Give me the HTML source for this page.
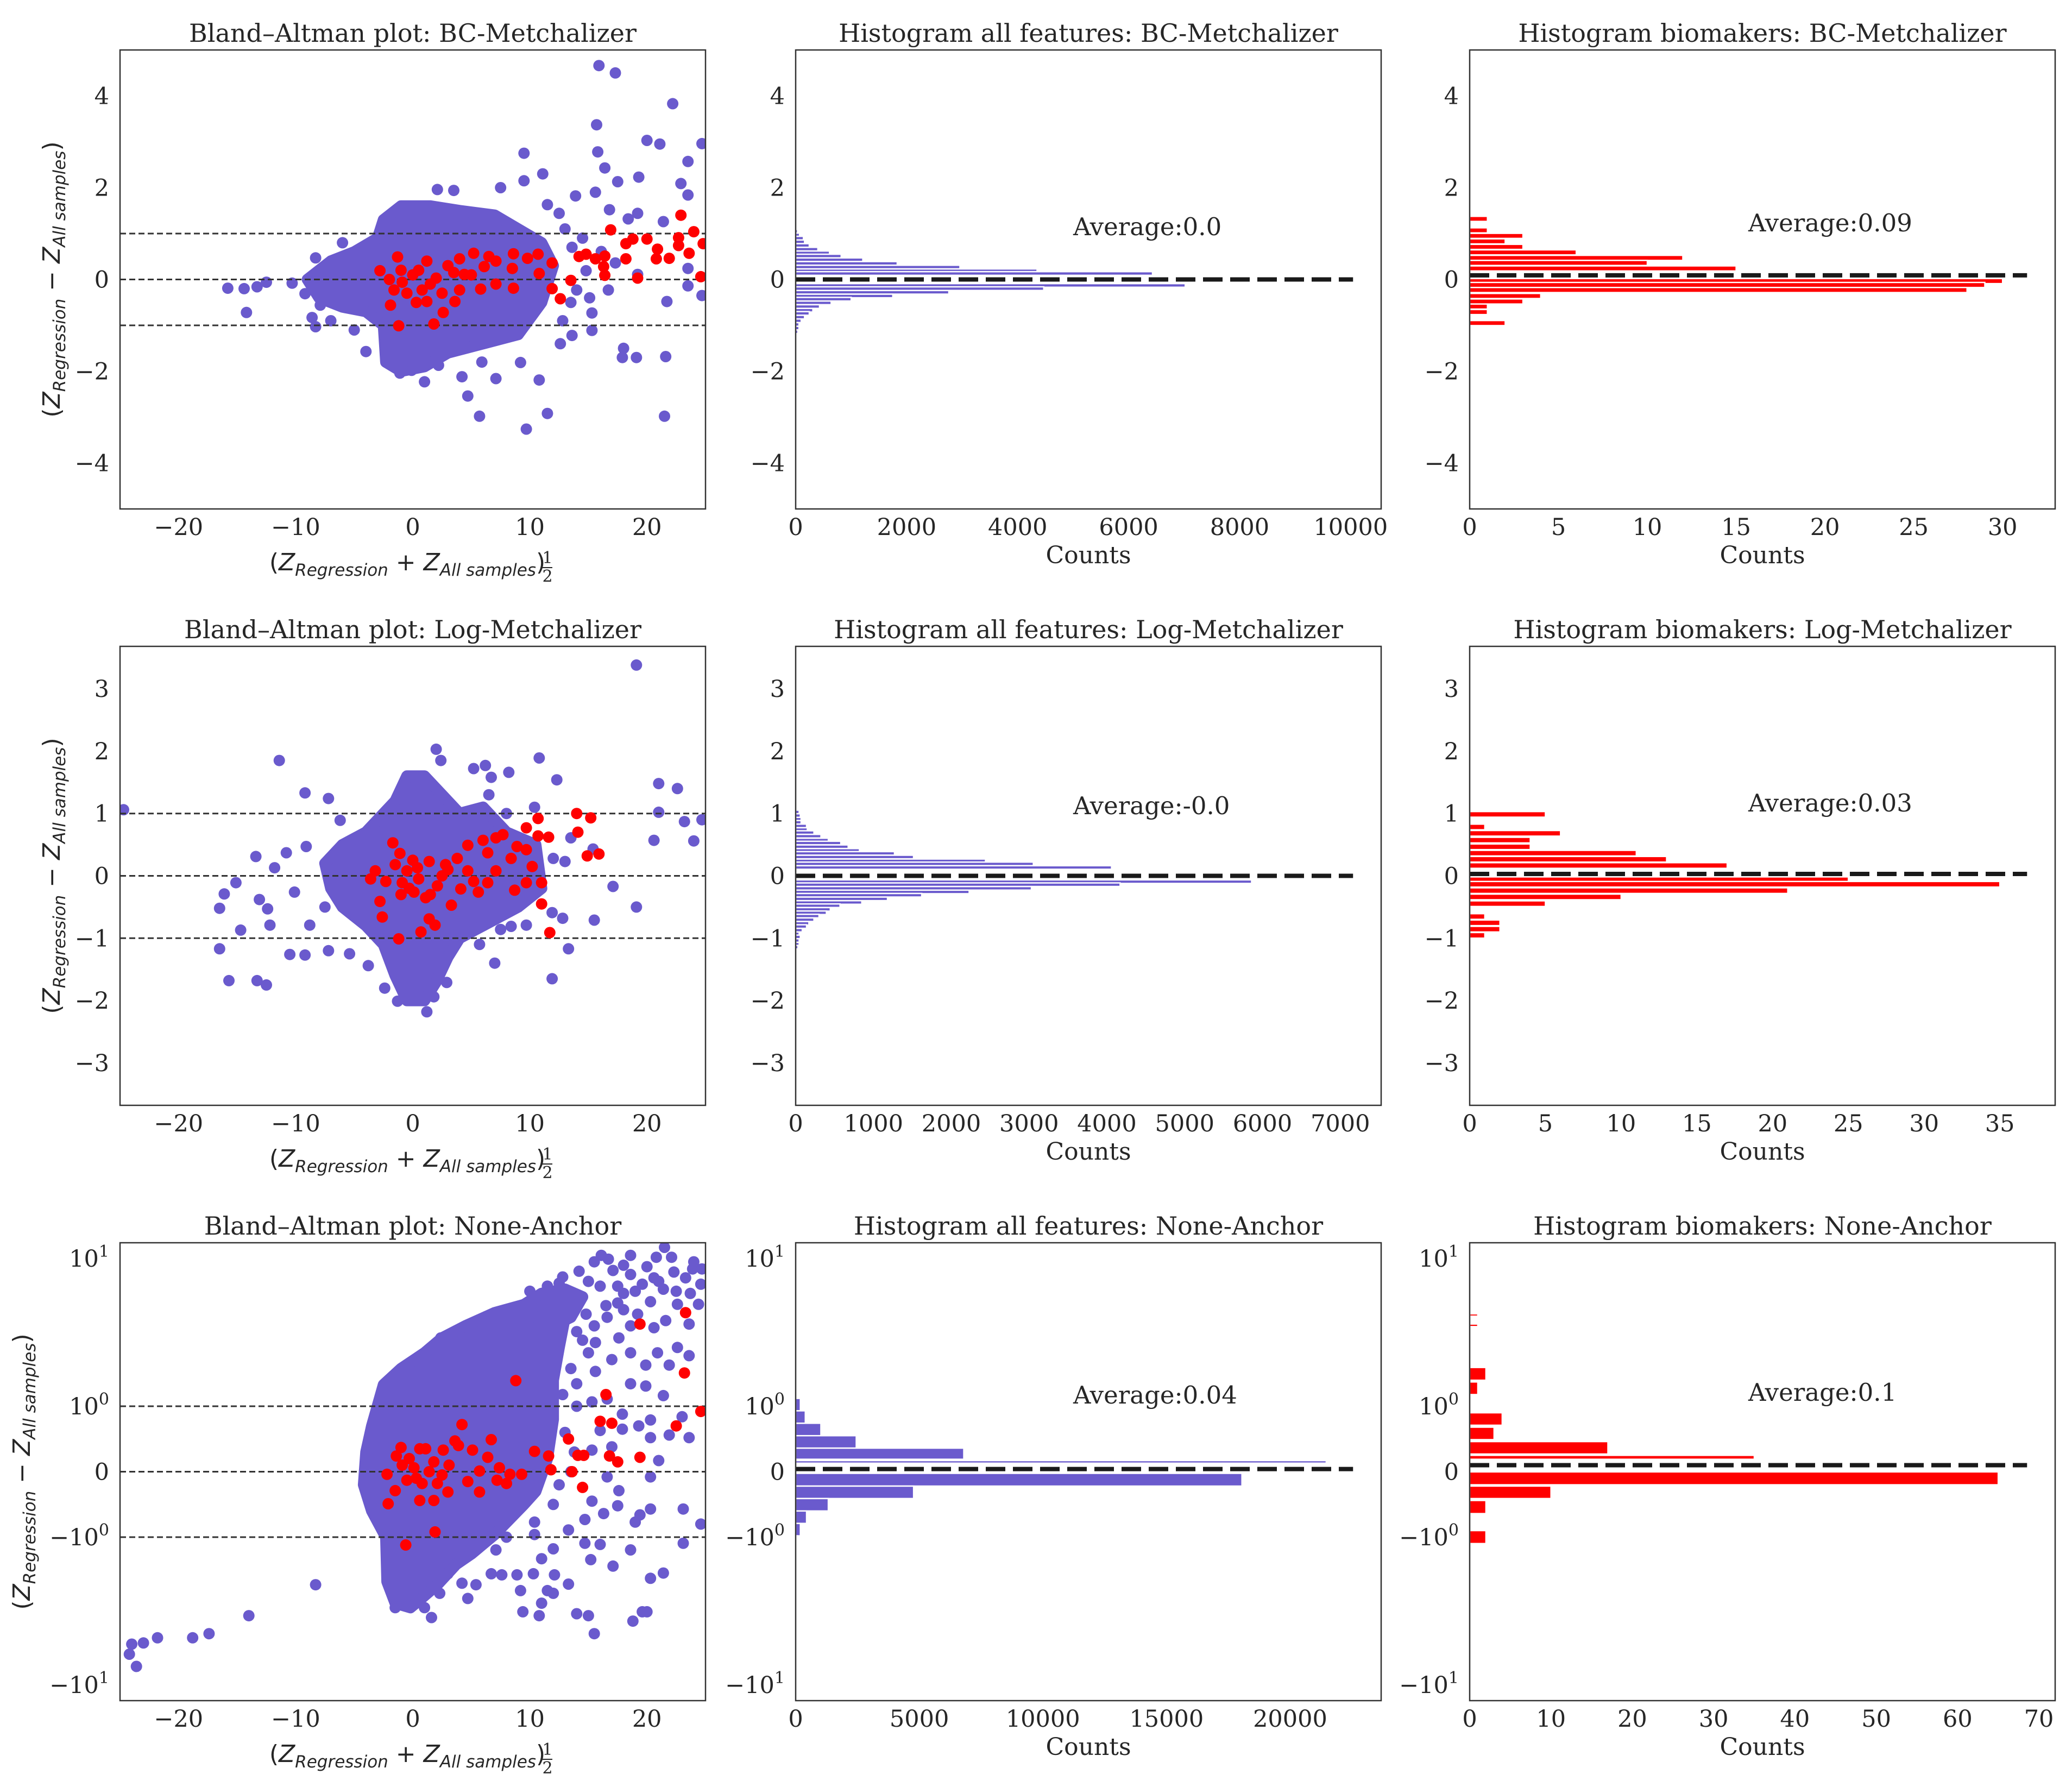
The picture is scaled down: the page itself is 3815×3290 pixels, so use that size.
<!DOCTYPE html>
<html><head><meta charset="utf-8">
<style>
html,body{margin:0;padding:0;background:#fff;}
svg{display:block;}
text{font-family:"DejaVu Serif","Liberation Serif",serif;fill:#262626;}
.math{font-family:"DejaVu Sans","Liberation Sans",sans-serif;font-style:italic;}
</style></head>
<body>
<svg id="fig" xmlns="http://www.w3.org/2000/svg" width="3815" height="3290" viewBox="0 0 3815 3290">
<rect x="0" y="0" width="3815" height="3290" fill="#fff"/>
</svg>
<script>
// ---------------- DATA ----------------
const scatterXTicks=[-20,-10,0,10,20];
const row1YTicks=[-4,-2,0,2,4];
const row2YTicks=[-3,-2,-1,0,1,2,3];
const row3YTicks=[-10,-1,0,1,10];
const row3YLabels=[["−10","1"],["−10","0"],["0",""],["10","0"],["10","1"]];
const limitLines=[-1,0,1];

const bcCore=[[-2.5,1.3],[-1,1.6],[1.5,1.6],[4,1.5],[7,1.4],[9,1.1],[11,0.8],[12,0.3],[11,-0.5],[9,-1.2],[6,-1.4],[3,-1.6],[1,-1.9],[-1,-2.0],[-2.3,-1.8],[-2.5,-1],[-4,-0.7],[-6,-0.6],[-8,-0.4],[-9,0],[-7,0.4],[-5,0.6],[-3,0.9]];
const bcBlue=[[15.9,4.66],[17.3,4.5],[22.2,3.83],[15.7,3.37],[20.0,3.03],[21.1,2.95],[24.7,2.96],[9.5,2.75],[15.8,2.78],[23.5,2.57],[16.4,2.43],[17.5,2.13],[19.3,2.23],[22.9,2.09],[23.5,1.84],[15.6,1.9],[13.9,1.82],[11.1,2.3],[9.5,2.15],[7.5,2.0],[2.1,1.96],[3.5,1.94],[16.8,1.52],[19.2,1.44],[21.4,1.26],[18.4,1.32],[12.5,1.44],[11.5,1.63],[-8.3,0.47],[-14.2,-0.72],[-15.8,-0.19],[-14.4,-0.2],[-13.3,-0.16],[-12.5,-0.06],[-10.3,-0.08],[-9.2,-0.31],[-7.9,-0.56],[-8.6,-0.83],[-8.3,-1.03],[-4.0,-1.57],[15.3,-0.73],[24.7,-0.35],[23.5,-0.14],[23.5,0.24],[21.7,-0.48],[19.2,0.11],[17.9,-1.7],[19.1,-1.7],[21.6,-1.68],[21.5,-2.98],[18.0,-1.5],[15.3,-1.11],[13.6,-1.22],[12.6,-1.4],[9.2,-1.81],[10.8,-2.19],[7.1,-2.16],[5.9,-1.8],[4.2,-2.12],[2.2,-1.87],[1.0,-2.23],[4.7,-2.54],[5.7,-2.98],[9.7,-3.26],[11.5,-2.92],[-0.1,-1.98],[-1.1,-2.04],[15.1,-0.4],[16.7,-0.23],[14.0,-0.23],[17.3,0.36],[14.8,0.19],[13.6,0.7],[16.1,0.61],[13,1.1],[14.5,0.9],[12.8,-0.9],[13.5,-0.5],[-6,0.8],[-7,-0.9],[-5,-1.1]];
const bcRed=[[22.9,1.4],[16.9,1.08],[24,1.04],[22.7,0.91],[20,0.88],[18.8,0.88],[18.2,0.78],[24.8,0.78],[22.7,0.74],[20.9,0.66],[23.6,0.57],[21.9,0.46],[20.8,0.45],[18.2,0.45],[15.6,0.45],[16.4,0.51],[14.8,0.55],[14.2,0.5],[16.3,0.28],[16.4,0.09],[19.2,0.03],[24.6,0.06],[11.9,0.36],[10.7,0.55],[9.8,0.46],[8.6,0.56],[8.6,-0.19],[11.9,-0.2],[12.6,-0.42],[13.5,-0.02],[10.8,0.13],[7.1,0.4],[7.1,-0.1],[5.8,-0.21],[5.2,0.57],[4.0,0.45],[3.6,-0.48],[2.6,-0.72],[1.8,-0.97],[-1.2,-1.01],[-1.9,-0.56],[-1.3,0.49],[-2.8,0.19],[1.2,0.4],[0.8,-0.23],[0,0.1],[-0.9,-0.06],[2.0,0.03],[4.4,0.11],[6.1,0.28],[8.5,0.24],[-1.6,-0.23],[1.2,-0.48],[4,-0.23],[-0.5,-0.3],[0.5,0.2],[3,0.3],[-2,0],[1.5,-0.1],[2.5,-0.3],[-1,0.2],[0.3,-0.5],[3.5,0.15],[5,0.1],[6.5,0.5]];

const logCore=[[-1.5,1.2],[-0.5,1.6],[1,1.6],[2.5,1.3],[4,1.0],[6,1.1],[8,0.7],[10.5,0.5],[11,-0.2],[9,-0.5],[6,-0.8],[4,-1.0],[3,-1.3],[2,-1.7],[1,-2.0],[-0.5,-2.0],[-1.5,-1.6],[-2.5,-1.1],[-4,-0.8],[-6,-0.5],[-7,-0.2],[-7.5,0.2],[-6,0.5],[-4,0.7],[-3,0.9]];
const logBlue=[[19.1,3.38],[21,1.48],[22.6,1.4],[21,1.02],[23.2,0.87],[24.7,0.9],[20.6,0.57],[24,0.56],[19.1,-0.5],[17.1,-0.17],[15.5,-0.71],[13.3,-1.17],[11.9,-1.65],[12.8,-0.68],[11.9,-0.59],[12.3,1.54],[10.8,1.89],[8.2,1.66],[6.2,1.77],[6.7,1.58],[2.0,2.03],[2.4,1.85],[5.2,1.72],[10.4,1.1],[13,0.23],[12,0.28],[8.4,-0.81],[9.7,-0.79],[7.5,-0.86],[5.7,-1.1],[2.9,-1.71],[1.8,-1.94],[1.2,-2.18],[-1.3,-2.01],[-2.4,-1.8],[-11.4,1.85],[-9.2,1.33],[-7.2,1.24],[-13.4,0.31],[-16.1,-0.29],[-16.5,-0.52],[-15.1,-0.11],[-13.1,-0.38],[-14.7,-0.87],[-12.4,-0.53],[-12.2,-0.79],[-16.5,-1.17],[-15.7,-1.68],[-13.3,-1.68],[-12.5,-1.75],[-10.5,-1.26],[-9.2,-1.27],[-7.2,-1.2],[-5.4,-1.25],[-3.8,-1.44],[-24.7,1.06],[-11.8,0.13],[-10.8,0.37],[-9.1,0.47],[-6.2,0.89],[-10.1,-0.26],[-8.8,-0.79],[-7.5,-0.5],[15.4,0.43],[13.5,0.61],[6.5,1.3],[7,-1.4],[8,1.0]];
const logRed=[[14,1.0],[15.2,0.93],[10.7,0.92],[9.7,0.77],[10.7,0.64],[11.6,0.62],[14.1,0.7],[14.9,0.32],[15.9,0.35],[11,-0.45],[11.7,-0.91],[11,-0.11],[10.2,0.15],[9.7,-0.11],[8.7,-0.23],[7.7,0.66],[7.1,0.61],[8.9,0.47],[9.7,0.42],[6,0.57],[4.7,0.49],[6.4,0.37],[7.1,0.08],[6.4,-0.11],[5.2,-0.09],[5.6,-0.26],[3.8,0.28],[2.8,0.18],[1.4,0.23],[0.4,0.13],[-0.5,0.08],[-0.9,-0.11],[0.1,-0.26],[1.1,-0.35],[3.3,-0.47],[2.1,-0.16],[-1.7,0.53],[-1.1,0.36],[-1.5,0.18],[-3.2,0.08],[-3.6,-0.05],[-2.3,-0.09],[-2.8,-0.41],[-2.6,-0.66],[1.4,-0.69],[1.9,-0.79],[0.7,-0.9],[-1.2,-1.01],[4.1,-0.21],[4.7,0.08],[8.4,0.28],[0.5,-0.05],[2.5,0.0],[-0.3,-0.2],[1.5,-0.3],[3,0.1],[0,0.25],[-1,-0.3]];

const noneCore=[[-4,0.3],[-3.5,0.7],[-2.5,1.4],[-1,1.8],[1,2.3],[2.5,2.9],[4.5,3.5],[7,4.3],[10,5.0],[12,5.2],[13,4.0],[12.5,2.5],[12,1.5],[12,0.8],[11.5,0.2],[10.5,-0.3],[9.5,-0.5],[7,-0.96],[5,-1.3],[3.7,-1.53],[2.1,-2.1],[0.5,-2.7],[-0.2,-3.0],[-1.5,-2.8],[-2.2,-2.0],[-2.3,-1.0],[-3.5,-0.6],[-4.2,-0.2]];
const noneUpper=[[9,4.6],[11,5.8],[13,6.2],[14.5,5.5],[13.5,4],[12,3.5]];
const noneBlue=[[-24.2,-6.2],[-23.6,-7.5],[-24,-5.3],[-23,-5.2],[-21.8,-4.8],[-18.8,-4.8],[-17.4,-4.5],[-14,-3.4],[-8.3,-2.1],[21.5,11.9],[16.1,10.5],[16.7,9.9],[18.6,10.5],[20.8,10.2],[22.1,10.2],[23.9,8.5],[24.7,8.5],[14.2,8.2],[12.8,7.5],[17.1,8.3],[22.3,8.1],[20.6,7.4],[23.3,7.4],[24.6,6.7],[18.6,7.8],[19.6,6.7],[21.4,6.2],[18,5.8],[20.3,5.1],[22.6,4.9],[23.7,5.8],[24.4,4.9],[16.6,4.0],[18.6,3.5],[20.6,3.4],[23.6,3.6],[21.6,3.8],[15.6,2.7],[17.6,2.9],[22.6,2.5],[23.6,2.2],[18.6,2.3],[20.9,2.3],[19.9,1.9],[21.9,1.9],[17,2.07],[15,2.3],[15.6,1.72],[14,1.42],[18.6,1.42],[19.9,1.37],[21.4,1.18],[16.6,1.12],[15.3,1.07],[17.9,0.88],[20.3,0.79],[23,0.84],[16,0.63],[17.9,0.65],[19.3,0.7],[20.3,0.52],[21.9,0.56],[23.6,0.52],[15.3,0.33],[17,0.38],[21,0.17],[16.6,-0.08],[20.3,-0.08],[17.6,-0.29],[15.3,-0.45],[16.3,-0.64],[17.5,-0.52],[19,-0.77],[20.3,-0.57],[23.1,-0.57],[24.6,-0.8],[19.4,-0.66],[14.7,-0.73],[13.3,-0.89],[14.7,-1.1],[16,-1.12],[18.6,-1.22],[23.1,-1.1],[15.2,-1.42],[17.1,-1.57],[20.3,-1.9],[21.4,-1.75],[13.3,-2.08],[11.5,-2.3],[12,-2.4],[11,-2.8],[9.4,-3.2],[10.8,-3.4],[14,-3.3],[15,-3.4],[15.5,-4.5],[18.8,-3.7],[19.6,-3.2],[20,-3.2],[9.2,-2.3],[10.3,-1.77],[12.1,-1.8],[7.6,-1.8],[8.9,-1.8],[6.7,-1.77],[5.4,-2.1],[4.2,-2.05],[4.7,-2.6],[2.3,-2.4],[1.6,-3.5],[1,-3.0],[-1.5,-3.0],[3.0,-1.77],[7.1,-1.22],[5.7,-1.1],[8.0,-1.0],[10.4,-0.96],[10.4,-0.77],[12,-0.5],[2.4,2.9],[0,1.54],[1.5,1.9],[-2.3,0.94],[18,4.5],[19,6],[21,7],[24,9.5],[22.5,6],[17.5,5],[14,1],[13,0.6],[12,-1.2],[13.5,1.8],[14.5,2.8],[15.5,3.5],[16,6.5],[15,7],[17.5,6.5],[13.8,5],[12.5,6.8],[11.5,6.5],[10,6],[16.5,4.8],[14,3.2],[12.8,1.2],[13.8,0.3],[14.8,4.2],[19.2,4.2],[20,8.8],[18,9],[15.5,9.5],[13.5,0],[12.5,-0.2],[11,-1.4]];
const noneRed=[[23.3,4.3],[19.4,3.6],[23.2,1.68],[16.5,1.2],[8.8,1.49],[24.6,0.92],[16,0.77],[17,0.74],[22.5,0.7],[4.2,0.72],[6.7,0.49],[13.3,0.5],[10.4,0.31],[11.6,0.24],[14.1,0.25],[14.6,0.25],[16.8,0.24],[17.5,0.15],[19.4,0.22],[11.8,0.03],[13.6,0],[9.3,-0.04],[14.5,-0.24],[6.4,0.22],[7.4,0.06],[8.3,-0.04],[7.2,-0.13],[8,-0.18],[5.7,0.01],[5.7,-0.31],[4.7,-0.15],[3.6,0.47],[3.9,0.4],[5.1,0.33],[2.6,0.33],[1.1,0.35],[0.6,0.35],[-1,0.37],[-1.4,0.24],[-0.9,0.1],[0.1,0.06],[1.8,0.15],[3.1,0.1],[-2.2,-0.04],[-1.5,-0.29],[-0.5,-0.13],[0.8,-0.18],[2.1,-0.18],[3,-0.31],[-2.1,-0.49],[0.6,-0.44],[1.8,-0.44],[1.9,-0.92],[-0.6,-1.13],[0.3,-0.1],[1.4,0],[-0.3,0.2],[2.5,-0.05]];

// histograms (linear y): bin centres + counts
const bcAllCenters=[1.05,0.97,0.90,0.82,0.74,0.66,0.58,0.51,0.43,0.35,0.27,0.19,0.13,-0.13,-0.20,-0.28,-0.36,-0.43,-0.51,-0.59,-0.67,-0.74,-0.82,-0.90,-0.98,-1.06,-1.14,-1.22,-1.28];
const bcAllCounts=[35,70,140,160,245,400,610,820,1210,1830,2960,4350,6430,7020,4470,2760,1750,1000,640,430,310,245,160,100,60,60,40,20,20];
const bcBioCenters=[1.32,1.07,0.95,0.83,0.71,0.59,0.47,0.36,0.24,-0.035,-0.12,-0.23,-0.36,-0.48,-0.59,-0.71,-0.95];
const bcBioCounts=[1,1,3,2,3,6,12,10,15,30,29,28,4,3,1,1,2];
const logAllCenters=[1.135,1.077,1.025,0.967,0.909,0.859,0.801,0.743,0.694,0.636,0.575,0.526,0.467,0.409,0.360,0.302,0.241,0.192,0.134,-0.093,-0.142,-0.200,-0.258,-0.311,-0.369,-0.427,-0.479,-0.537,-0.592,-0.645,-0.703,-0.761,-0.813,-0.871,-0.929,-0.979,-1.037,-1.095,-1.144,-1.202,-1.257];
const logAllCounts=[15,15,45,60,70,70,140,150,235,325,420,580,675,820,1270,1515,2440,3055,4060,5860,4170,3030,2230,1620,1180,850,570,445,395,300,235,170,140,85,45,60,45,45,30,15,15];
const logBioCenters=[0.986,0.784,0.682,0.573,0.466,0.364,0.266,0.166,-0.062,-0.135,-0.237,-0.338,-0.446,-0.652,-0.753,-0.855,-0.954];
const logBioCounts=[5,1,6,4,4,11,13,17,25,35,21,10,5,1,2,2,1];
// histograms (symlog y): bin lows / highs / counts
const noneAllLo=[1.37,1.13,0.93,0.74,0.55,0.36,0.19,0.13,-0.22,-0.41,-0.60,-0.79,-0.98,-1.19];
const noneAllHi=[1.67,1.37,1.13,0.93,0.74,0.55,0.36,0.17,-0.025,-0.22,-0.41,-0.60,-0.79,-0.98];
const noneAllCounts=[50,50,190,390,1020,2450,6800,21460,18050,4770,1320,440,190,50];
const noneBioLo=[4.07,3.46,1.5,1.2,0.71,0.49,0.27,0.19,-0.2,-0.41,-0.64,-1.105];
const noneBioHi=[4.22,3.6,1.83,1.46,0.90,0.68,0.46,0.25,-0.003,-0.22,-0.44,-0.90];
const noneBioCounts=[1,1,2,1,4,3,17,35,65,10,2,2];
const averages=[0.0,0.09,-0.0,0.03,0.04,0.1];
const averageLabels=["Average:0.0","Average:0.09","Average:-0.0","Average:0.03","Average:0.04","Average:0.1"];

// ---------------- DRAWING ----------------
const NS='http://www.w3.org/2000/svg';
const svg=document.getElementById('fig');
function mk(tag,attrs,parent){const e=document.createElementNS(NS,tag);for(const k in attrs)e.setAttribute(k,attrs[k]);(parent||svg).appendChild(e);return e;}
const PURPLE='#6a5acd', RED='#ff0000';
const COLS=[[221,1299],[1465,2543],[2706,3784]];
const ROWS=[[92,937],[1190,2035],[2288,3131]];
const LIN=120.5, DEC=272;
function symlog(v){const a=Math.abs(v);return a<=1?v*LIN:Math.sign(v)*(LIN+DEC*Math.log10(a));}

let clipId=0;
function panel(r,c,xmin,xmax,ytype,ylim,name){
  const [x0,x1]=COLS[c],[y0,y1]=ROWS[r];
  const sx=v=>x0+(v-xmin)/(xmax-xmin)*(x1-x0);
  let sy;
  if(ytype==='lin'){sy=v=>y1-(v+ylim)/(2*ylim)*(y1-y0);}
  else{const mid=(y0+y1)/2;sy=v=>mid-symlog(v);}
  const cp=mk('clipPath',{id:'cp'+(++clipId)});
  mk('rect',{x:x0,y:y0,width:x1-x0,height:y1-y0},cp);
  const g=mk('g',{'clip-path':'url(#cp'+clipId+')'});
  
  
  return {x0,x1,y0,y1,sx,sy,g,name};
}
function frame(p){
  const f=mk('rect',{x:p.x0,y:p.y0,width:p.x1-p.x0,height:p.y1-p.y0,fill:'none',stroke:'#333',"stroke-width":2.5});
  
  
}
function title(p,txt){
  const t=mk('text',{x:(p.x0+p.x1)/2,y:p.y0-15,'text-anchor':'middle','font-size':46});
  t.textContent=txt;
  
  
}
function xticks(p,ticks,fmt){
  ticks.forEach(v=>{
    const t=mk('text',{x:p.sx(v),y:p.y1+48,'text-anchor':'middle','font-size':43});
    t.textContent=fmt(v);
    
    
  });
}
function yticks(p,ticks){
  ticks.forEach(v=>{
    const t=mk('text',{x:p.x0-20,y:p.sy(v)+15,'text-anchor':'end','font-size':43});
    t.textContent=v<0?'−'+Math.abs(v):String(v);
    
    
  });
}
function yticksSym(p){
  row3YTicks.forEach((v,i)=>{
    const t=mk('text',{x:p.x0-20,y:p.sy(v)+15,'text-anchor':'end','font-size':43});
    const base=document.createElementNS(NS,'tspan');base.textContent=row3YLabels[i][0];t.appendChild(base);
    if(row3YLabels[i][1]){const s=document.createElementNS(NS,'tspan');s.setAttribute('dy','-18');s.setAttribute('font-size','30');s.textContent=row3YLabels[i][1];t.appendChild(s);}
    
    
  });
}
function countsLabel(p){
  const t=mk('text',{x:(p.x0+p.x1)/2,y:p.y1+100,'text-anchor':'middle','font-size':44});
  t.textContent='Counts';
  
  
}
function mathXLabel(p){
  const t=mk('text',{x:(p.x0+p.x1)/2-10,y:p.y1+113,'text-anchor':'middle','font-size':44});
  t.innerHTML='<tspan font-style="normal">(</tspan><tspan class="math">Z</tspan><tspan class="math" font-size="31" dy="10">Regression</tspan><tspan font-style="normal" dy="-10"> + </tspan><tspan class="math">Z</tspan><tspan class="math" font-size="31" dy="10">All samples</tspan><tspan font-style="normal" dy="-10">)</tspan>';
  t.setAttribute('class','math');
  
  
  const fx=(p.x0+p.x1)/2+248;
  const n=mk('text',{x:fx,y:p.y1+100,'text-anchor':'middle','font-size':30});n.textContent='1';
  
  
  mk('line',{x1:fx-9,x2:fx+9,y1:p.y1+108,y2:p.y1+108,stroke:'#262626','stroke-width':2});
  const d=mk('text',{x:fx,y:p.y1+134,'text-anchor':'middle','font-size':30});d.textContent='2';
  
  
}
function mathYLabel(p,xpos){
  const cy=(p.y0+p.y1)/2;
  const t=mk('text',{x:xpos,y:cy,'text-anchor':'middle','font-size':44,transform:'rotate(-90 '+xpos+' '+cy+')'});
  t.innerHTML='<tspan font-style="normal">(</tspan><tspan>Z</tspan><tspan font-size="31" dy="10">Regression</tspan><tspan font-style="normal" dy="-10"> − </tspan><tspan>Z</tspan><tspan font-size="31" dy="10">All samples</tspan><tspan font-style="normal" dy="-10">)</tspan>';
  t.setAttribute('class','math');
  
  
}
function region(p,poly,name){
  const d=poly.map((q,i)=>(i?'L':'M')+p.sx(q[0]).toFixed(1)+' '+p.sy(q[1]).toFixed(1)).join(' ')+' Z';
  const e=mk('path',{d,fill:PURPLE,stroke:PURPLE,'stroke-width':21,'stroke-linejoin':'round'},p.g);
  
  
}
function dots(p,pts,color,name){
  pts.forEach(q=>{
    const c=mk('circle',{cx:p.sx(q[0]).toFixed(1),cy:p.sy(q[1]).toFixed(1),r:10.5,fill:color},p.g);
    
    
  });
}
function limits(p){
  limitLines.forEach(v=>{
    const l=mk('line',{x1:p.x0,x2:p.x1,y1:p.sy(v),y2:p.sy(v),stroke:'#333','stroke-width':3,'stroke-dasharray':'11 6'},p.g);
    
    
  });
}
function histLin(p,centers,counts,w,color){
  centers.forEach((cv,i)=>{
    const yt=p.sy(cv+w/2),yb=p.sy(cv-w/2);
    const r=mk('rect',{x:p.sx(0),y:yt,width:Math.max(0,p.sx(counts[i])-p.sx(0)),height:yb-yt,fill:color,stroke:'#fff','stroke-width':2.5},p.g);
    
    
  });
}
function histBins(p,lo,hi,counts,color){
  lo.forEach((l,i)=>{
    const yt=p.sy(hi[i]),yb=p.sy(l);
    const r=mk('rect',{x:p.sx(0),y:yt,width:Math.max(0,p.sx(counts[i])-p.sx(0)),height:yb-yt,fill:color,stroke:'#fff','stroke-width':2.5},p.g);
    
    
  });
}
function meanLine(p,xmax,mean,label,tx,ty){
  const l=mk('line',{x1:p.sx(0),x2:p.sx(xmax*0.952),y1:p.sy(mean),y2:p.sy(mean),stroke:'#1a1a1a','stroke-width':8,'stroke-dasharray':'36 14'},p.g);
  
  
  const t=mk('text',{x:tx,y:ty,'font-size':45});
  t.textContent=label;
  
  
}

const fmtInt=v=>v<0?'−'+Math.abs(v):String(v);
const setups=[
 {name:'BC-Metchalizer',ytype:'lin',ylim:5,yt:row1YTicks,core:[bcCore],blue:bcBlue,red:bcRed,
  allX:10550,allTicks:[0,2000,4000,6000,8000,10000],bioX:32.96,bioTicks:[0,5,10,15,20,25,30],
  all:p=>histLin(p,bcAllCenters,bcAllCounts,0.079,PURPLE),bio:p=>histLin(p,bcBioCenters,bcBioCounts,0.11,RED),ty1:433,ty2:426},
 {name:'Log-Metchalizer',ytype:'lin',ylim:3.68,yt:row2YTicks,core:[logCore],blue:logBlue,red:logRed,
  allX:7525,allTicks:[0,1000,2000,3000,4000,5000,6000,7000],bioX:38.65,bioTicks:[0,5,10,15,20,25,30,35],
  all:p=>histLin(p,logAllCenters,logAllCounts,0.057,PURPLE),bio:p=>histLin(p,logBioCenters,logBioCounts,0.09,RED),ty1:1499,ty2:1494},
 {name:'None-Anchor',ytype:'sym',ylim:12.8,yt:null,core:[noneCore,noneUpper],blue:noneBlue,red:noneRed,
  allX:23680,allTicks:[0,5000,10000,15000,20000],bioX:72,bioTicks:[0,10,20,30,40,50,60,70],
  all:p=>histBins(p,noneAllLo,noneAllHi,noneAllCounts,PURPLE),bio:p=>histBins(p,noneBioLo,noneBioHi,noneBioCounts,RED),ty1:2584,ty2:2579}
];
setups.forEach((s,r)=>{
  const p=panel(r,0,-25,25,s.ytype,s.ylim,'bland-altman-'+s.name.toLowerCase());
  s.core.forEach(c=>region(p,c,'dense-point-cloud'));
  dots(p,s.blue,PURPLE,'feature-point');
  limits(p);
  dots(p,s.red,RED,'biomarker-point');
  frame(p); title(p,'Bland–Altman plot: '+s.name);
  xticks(p,scatterXTicks,fmtInt);
  if(s.yt) yticks(p,s.yt); else yticksSym(p);
  mathXLabel(p); mathYLabel(p,s.yt?110:55);
  const h=panel(r,1,0,s.allX,s.ytype,s.ylim,'histogram-all-'+s.name.toLowerCase());
  s.all(h); meanLine(h,s.allX,averages[r*2],averageLabels[r*2],1976,s.ty1);
  frame(h); title(h,'Histogram all features: '+s.name);
  xticks(h,s.allTicks,String); if(s.yt) yticks(h,s.yt); else yticksSym(h); countsLabel(h);
  const b=panel(r,2,0,s.bioX,s.ytype,s.ylim,'histogram-biomarkers-'+s.name.toLowerCase());
  s.bio(b); meanLine(b,s.bioX,averages[r*2+1],averageLabels[r*2+1],3219,s.ty2);
  frame(b); title(b,'Histogram biomakers: '+s.name);
  xticks(b,s.bioTicks,String); if(s.yt) yticks(b,s.yt); else yticksSym(b); countsLabel(b);
});
</script>
</body></html>
